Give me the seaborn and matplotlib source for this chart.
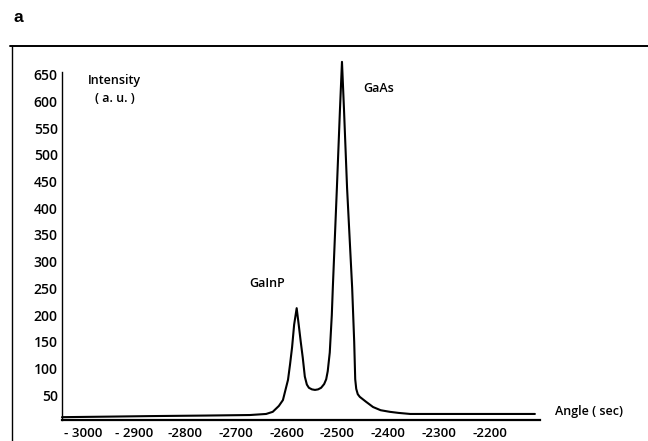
import matplotlib
matplotlib.use("Agg")
import matplotlib.pyplot as plt
from matplotlib.lines import Line2D
import seaborn as sns
import pandas as pd

# ---- data ----
angle = [-3041, -2950, -2868, -2760, -2672, -2640, -2627, -2615, -2607, -2602,
         -2597, -2593, -2589, -2585, -2580, -2576, -2572, -2568, -2564, -2560,
         -2556, -2550, -2544, -2538, -2532, -2526, -2522, -2519, -2515, -2511,
         -2509, -2501, -2495, -2491, -2487, -2481, -2471, -2467, -2465, -2463,
         -2460, -2456, -2444, -2430, -2415, -2397, -2380, -2357, -2300, -2200,
         -2112]
intensity = [9, 10, 11, 12, 13, 15, 19, 30, 41, 60,
             79, 108, 140, 182, 213, 182, 150, 120, 85, 70,
             64, 61, 60, 61, 64, 71, 80, 95, 130, 200,
             251, 438, 584, 674, 584, 438, 251, 150, 80, 62,
             52, 47, 38, 28, 22, 19, 17, 15, 15, 15,
             15]

xtick_values = [-3000, -2900, -2800, -2700, -2600, -2500, -2400, -2300, -2200]
xtick_labels = ["- 3000", "- 2900", "-2800", "-2700", "-2600", "-2500", "-2400", "-2300", "-2200"]
ytick_values = [50, 100, 150, 200, 250, 300, 350, 400, 450, 500, 550, 600, 650]

df = pd.DataFrame({"angle": angle, "intensity": intensity})

sns.set_style("white")
plt.rcParams["font.family"] = ["Open Sans", "DejaVu Sans"]
plt.rcParams["text.color"] = "black"
plt.rcParams["xtick.color"] = "black"
plt.rcParams["ytick.color"] = "black"
plt.rcParams["axes.labelcolor"] = "black"

W, H = 648, 441
fig = plt.figure(figsize=(W / 100, H / 100), dpi=100)

# axes placement (pixel based)
left_px, right_px, bottom_px, top_px = 62, 540, 420, 72
ax = fig.add_axes([left_px / W, 1 - bottom_px / H,
                   (right_px - left_px) / W, (bottom_px - top_px) / H])

sns.lineplot(data=df, x="angle", y="intensity", ax=ax, sort=False,
             color="black", linewidth=1.5, clip_on=False)

ax.set_xlim(-3041, -2102)
ax.set_ylim(3.7, 655)

for s in ["top", "right"]:
    ax.spines[s].set_visible(False)
ax.spines["left"].set_color("black")
ax.spines["bottom"].set_color("black")
ax.spines["left"].set_linewidth(1.0)
ax.spines["bottom"].set_linewidth(1.6)

ax.set_xticks(xtick_values)
ax.set_xticklabels(xtick_labels)
ax.set_yticks(ytick_values)
ax.set_yticklabels([str(v) for v in ytick_values])
ax.tick_params(axis="y", direction="out", length=2, width=0.8, color="#999999",
               labelcolor="black", labelsize=10, pad=1)
ax.tick_params(axis="x", length=0, labelsize=9.5, pad=5, labelcolor="black")
for lab in ax.get_xticklabels() + ax.get_yticklabels():
    lab.set_fontweight(600)
ax.set_xlabel("")
ax.set_ylabel("")

# annotations
ax.text(0.055, 0.975, "Intensity", transform=ax.transAxes, fontsize=9,
        ha="left", va="center", fontweight=600, color="black")
ax.text(0.07, 0.925, "( a. u. )", transform=ax.transAxes, fontsize=9,
        ha="left", va="center", fontweight=600, color="black")
ax.text(-2450, 625, "GaAs", fontsize=9, ha="left", va="center", fontweight=600,
        color="black")
ax.text(-2603, 260, "GaInP", fontsize=9, ha="right", va="center", fontweight=600,
        color="black")
fig.text(555 / W, 1 - 412 / H, "Angle ( sec)", fontsize=9, ha="left", va="center",
         fontweight=600, color="black")

# outer frame of the figure panel
fig.add_artist(Line2D([10 / W, 1.0], [1 - 46 / H, 1 - 46 / H], color="black",
                      linewidth=1.4, transform=fig.transFigure))
fig.add_artist(Line2D([12 / W, 12 / W], [1 - 46 / H, 0.0], color="black",
                      linewidth=1.0, transform=fig.transFigure))

fig.text(14 / W, 1 - 18 / H, "a", fontsize=12.5, fontweight="bold", color="black",
         family=["Liberation Sans", "DejaVu Sans"], ha="left", va="center")

fig.savefig("out.png", dpi=100)
